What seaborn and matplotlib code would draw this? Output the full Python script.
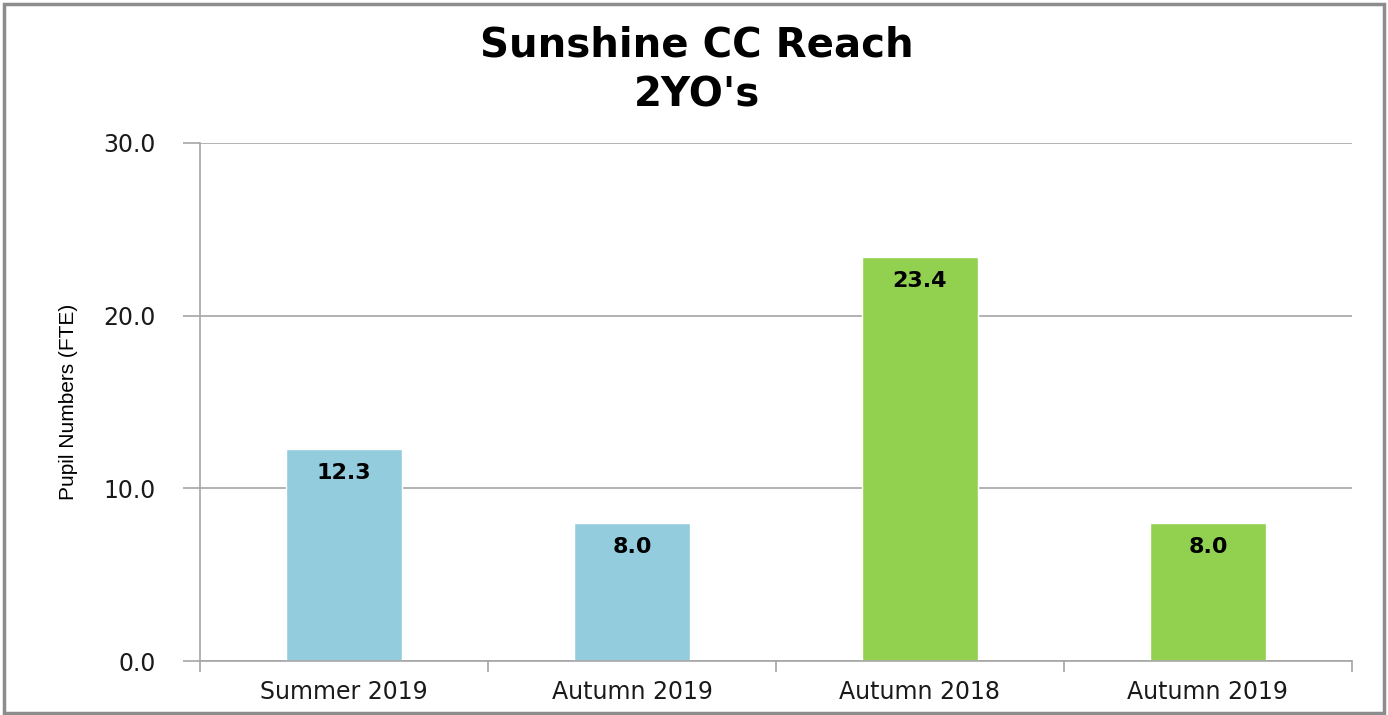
import numpy as np
import pandas as pd
import matplotlib
matplotlib.use("Agg")
import matplotlib.pyplot as plt
import seaborn as sns
from matplotlib.patches import Rectangle

# data
categories = ["Summer 2019", "Autumn 2019", "Autumn 2018", "Autumn 2019"]
values = [12.3, 8.0, 23.4, 8.0]
groups = ["2019", "2019", "2018", "2019b"]
group_colors = {"2019": "#93CDDD", "2018": "#92D050", "2019b": "#92D050"}
y_ticks = [0.0, 10.0, 20.0, 30.0]

sns.set_theme(style="white")
plt.rcParams['font.family'] = ['DejaVu Sans']

df = pd.DataFrame({"slot": range(len(categories)), "value": values, "group": groups})

fig = plt.figure(figsize=(13.88, 7.15), dpi=100)
ax = fig.add_axes([0.1441, 0.0755, 0.8299, 0.7245])

sns.barplot(data=df, x="slot", y="value", hue="group", palette=group_colors,
            dodge=False, width=0.4, legend=False, ax=ax, saturation=1)

ax.set_ylim(0, 30)
ax.set_xlim(-0.5, len(categories) - 0.5)
ax.set_yticks(y_ticks)
ax.set_yticklabels([f"{v:.1f}" for v in y_ticks], fontsize=17, color="#1a1a1a")
ax.yaxis.grid(True, color="#A6A6A6", linewidth=1.2)
ax.set_axisbelow(True)

ax.set_xticks(range(len(categories)))
ax.set_xticklabels(categories, fontsize=17, color="#1a1a1a")
ax.set_xticks(np.arange(-0.5, len(categories)), minor=True)
ax.tick_params(axis="x", which="major", length=0, pad=14)
ax.tick_params(axis="x", which="minor", length=8, width=1.2, color="#A6A6A6", bottom=True)
ax.tick_params(axis="y", length=12, width=1.2, color="#A6A6A6", left=True, pad=20)
ax.set_xlabel("")
ax.set_ylabel("Pupil Numbers (FTE)", fontsize=15, color="black",
              family=["Liberation Sans Narrow", "Liberation Sans", "DejaVu Sans"], labelpad=18)

for side in ["top", "right"]:
    ax.spines[side].set_visible(False)
for side in ["left", "bottom"]:
    ax.spines[side].set_color("#A6A6A6")
    ax.spines[side].set_linewidth(1.2)

for i, v in enumerate(values):
    ax.annotate(f"{v:.1f}", xy=(i, v), xytext=(0, -10), textcoords="offset points",
                ha="center", va="top", fontsize=16, fontweight="bold", color="black")

fig.text(0.502, 0.937, "Sunshine CC Reach", ha="center", va="center",
         fontsize=29, fontweight="bold", color="black")
fig.text(0.502, 0.867, "2YO's", ha="center", va="center",
         fontsize=29, fontweight="bold", color="black")

fig.patches.append(Rectangle((0.003, 0.003), 0.994, 0.992, transform=fig.transFigure,
                             fill=False, edgecolor="#8C8C8C", linewidth=2.5))

fig.savefig("out.png", dpi=100)
